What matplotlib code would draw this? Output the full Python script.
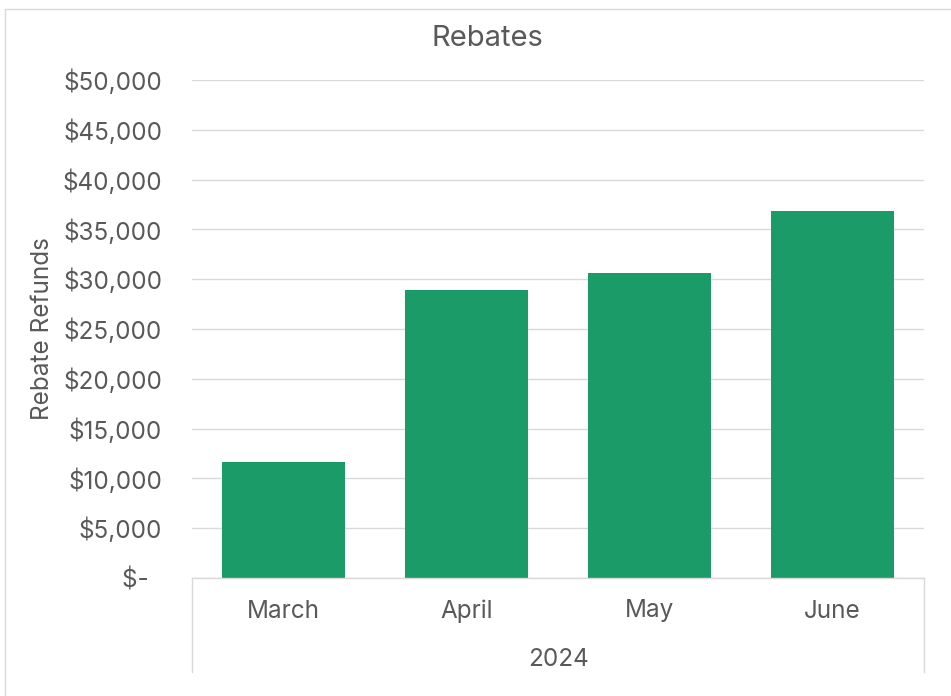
import matplotlib
matplotlib.use("Agg")
import matplotlib.pyplot as plt
from matplotlib.patches import Rectangle
from matplotlib.lines import Line2D

plt.rcParams['font.family'] = ['Inter', 'DejaVu Sans']

months = ["March", "April", "May", "June"]
year_label = "2024"
rebates = [11670, 28900, 30600, 36830]
yticks = [0, 5000, 10000, 15000, 20000, 25000, 30000, 35000, 40000, 45000, 50000]
ytick_labels = ["$-  ", "$5,000", "$10,000", "$15,000", "$20,000", "$25,000",
                "$30,000", "$35,000", "$40,000", "$45,000", "$50,000"]
title = "Rebates"
ylabel = "Rebate Refunds"

W, H = 951, 696
fig = plt.figure(figsize=(W / 100, H / 100), dpi=100)
fig.patch.set_facecolor("white")

# outer chart border
fig.patches.append(Rectangle((5 / W, -0.05), 1.1, (H - 9) / H + 0.05,
                             transform=fig.transFigure, fill=False,
                             edgecolor="#d9d9d9", linewidth=1.0))

left, right, top, bottom = 192, 924, 80, 578
ax = fig.add_axes([left / W, (H - bottom) / H, (right - left) / W, (bottom - top) / H])

text_color = "#595959"
grid_color = "#d9d9d9"
fs = 17.5

x = list(range(len(months)))
ax.bar(x, rebates, width=0.672, color="#1a9b68", zorder=3)
ax.set_xlim(-0.5, len(months) - 0.5)
ax.set_ylim(0, 50000)
ax.set_yticks(yticks)
ax.set_yticklabels(ytick_labels)
ax.yaxis.grid(True, color=grid_color, linewidth=1.0, zorder=0)
ax.tick_params(axis='y', length=0, pad=21.5, labelsize=fs, labelcolor=text_color)
ax.set_xticks([])
for s in ["top", "right", "left"]:
    ax.spines[s].set_visible(False)
ax.spines["bottom"].set_color(grid_color)
ax.spines["bottom"].set_linewidth(1.0)
ax.spines["bottom"].set_zorder(4)

fig.text(487 / W, 1 - 38 / H, title, fontsize=21, color=text_color,
         ha='center', va='center')
ax.set_ylabel(ylabel, fontsize=fs, color=text_color, labelpad=6)

# multi-level category axis
for i, m in enumerate(months):
    ax.annotate(m, xy=(i, 0), xycoords=('data', 'axes fraction'),
                xytext=(0, -33), textcoords='offset pixels',
                ha='center', va='center', fontsize=fs, color=text_color)
ax.annotate(year_label, xy=(0.5, 0), xycoords='axes fraction',
            xytext=(0, -81), textcoords='offset pixels',
            ha='center', va='center', fontsize=fs, color=text_color)
for xp in (left, right):
    fig.lines.append(Line2D([xp / W, xp / W], [(H - 578) / H, (H - 672) / H],
                            transform=fig.transFigure, color=grid_color, linewidth=1.0))

fig.savefig("out.png", dpi=100)
